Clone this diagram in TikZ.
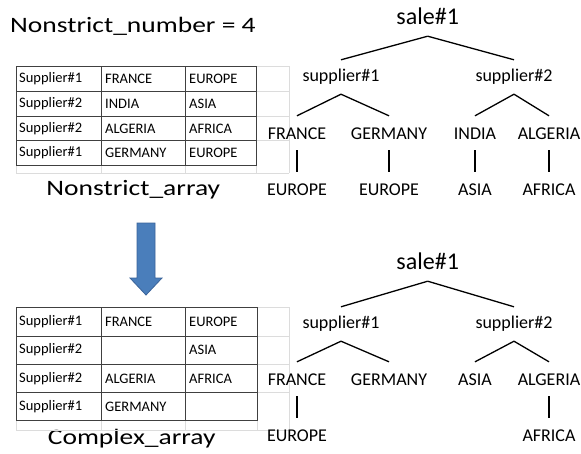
\documentclass[tikz,border=0pt]{standalone}
\usepackage{graphicx}
\usepackage{fontspec}
\setmainfont{Carlito}
\usetikzlibrary{positioning}
\definecolor{cellline}{HTML}{404040}
\definecolor{gridline}{HTML}{DCDCDC}
\definecolor{arrowblue}{HTML}{4A7EBB}
\definecolor{arrowedge}{HTML}{3A6399}
\newcommand{\squash}[1]{\scalebox{1}[0.8]{#1}}
\tikzset {
    caption/.style={font=\fontsize{27.5}{31}\selectfont, inner sep=0pt, anchor=base},
    cell/.style={font=\fontsize{14.5}{16}\selectfont, inner sep=0pt, anchor=west},
    root/.style={font=\fontsize{24}{28}\selectfont, text height=14pt, text depth=0pt, inner ysep=12pt, inner xsep=0pt},
    supp/.style={font=\fontsize{18}{22}\selectfont, text height=12pt, text depth=4pt, inner ysep=9pt, inner xsep=0pt},
    leaf/.style={font=\fontsize{18}{22}\selectfont, text height=12pt, text depth=0pt, inner ysep=11pt, inner xsep=0pt},
    branch/.style={draw=black, line width=1.3pt},
    frame/.style={draw=cellline, line width=0.9pt},
    faint/.style={draw=gridline, line width=0.6pt},
    node distance=56pt
}

\begin{document}
\begin{tikzpicture}[x=1pt, y=-1pt]
    \useasboundingbox (0,0) rectangle (581,453);

    % titles
    \node[caption, anchor=base west] (title) at (10,32.3) {\squash{Nonstrict\_number = 4}};
    \node[caption] (capA) at (133.3,195) {\squash{Nonstrict\_array}};
    \node[caption] (capB) at (131.7,444) {\squash{Complex\_array}};

    % first table
    \draw[faint] (16,66) -- (289,66) (256,91.3) -- (289,91.3) (256,116) -- (289,116)
        (256,140.3) -- (289,140.3) (16,173) -- (289,173) (289,66) -- (289,173)
        (16,165) -- (16,173) (101.7,165) -- (101.7,173) (185.7,165) -- (185.7,173) (256,165) -- (256,173);
    \draw[frame] (16,66) rectangle (256,165);
    \foreach \y in {91.3,116,140.3}
        \draw[frame] (16,\y) -- (256,\y);
    \foreach \x in {101.7,185.7}
        \draw[frame] (\x,66) -- (\x,165);
    \foreach \s/\c/\r [count=\i] in {Supplier\#1/FRANCE/EUROPE, Supplier\#2/INDIA/ASIA,
                                     Supplier\#2/ALGERIA/AFRICA, Supplier\#1/GERMANY/EUROPE} {
        \node[cell] (a\i s) at (19,54.1+24.75*\i) {\s};
        \node[cell] (a\i c) at (105,54.1+24.75*\i) {\c};
        \node[cell] (a\i r) at (189,54.1+24.75*\i) {\r};
    }

    % arrow
    \filldraw[fill=arrowblue, draw=arrowedge, line width=0.8pt]
        (137,223) -- (155,223) -- (155,278) -- (162,278) -- (146,295)
        -- (130,278) -- (137,278) -- cycle;

    % second table
    \draw[faint] (16,307.3) -- (289,307.3) (257,336) -- (289,336) (257,364) -- (289,364)
        (257,392.3) -- (289,392.3) (16,430) -- (289,430) (289,307.3) -- (289,430)
        (16,420.7) -- (16,430) (101.7,420.7) -- (101.7,430) (185.7,420.7) -- (185.7,430) (257,420.7) -- (257,430);
    \draw[frame] (16,307.3) rectangle (257,420.7);
    \foreach \y in {336,364,392.3}
        \draw[frame] (16,\y) -- (257,\y);
    \foreach \x in {101.7,185.7}
        \draw[frame] (\x,307.3) -- (\x,420.7);
    \foreach \s/\c/\r [count=\i] in {Supplier\#1/FRANCE/EUROPE, Supplier\#2//ASIA,
                                     Supplier\#2/ALGERIA/AFRICA, Supplier\#1/GERMANY/} {
        \node[cell] (b\i s) at (19,293.4+28.35*\i) {\s};
        \node[cell] (b\i c) at (105,293.4+28.35*\i) {\c};
        \node[cell] (b\i r) at (189,293.4+28.35*\i) {\r};
    }

    % first tree
    \node[root] (saleA) at (427.7,17) {sale\#1};
    \node[supp] (supA1) at (341,77) {supplier\#1};
    \node[supp] (supA2) at (514,77) {supplier\#2};
    \node[leaf] (frA) at (297,133) {FRANCE};
    \node[leaf] (geA) at (389,133) {GERMANY};
    \node[leaf] (inA) at (475,133) {INDIA};
    \node[leaf] (alA) at (549,133) {ALGERIA};
    \node[leaf, below of=frA] (euA1) {EUROPE};
    \node[leaf, below of=geA] (euA2) {EUROPE};
    \node[leaf, below of=inA] (asA) {ASIA};
    \node[leaf, below of=alA] (afA) {AFRICA};

    \draw[branch]
    (saleA.south) edge (supA1.north)
    (saleA.south) edge (supA2.north)
    (supA1.south) edge (frA.north)
    (supA1.south) edge (geA.north)
    (supA2.south) edge (inA.north)
    (supA2.south) edge (alA.north)
    (frA.south) edge (euA1.north)
    (geA.south) edge (euA2.north)
    (inA.south) edge (asA.north)
    (alA.south) edge (afA.north);

    % second tree
    \node[root] (saleB) at (427.7,262) {sale\#1};
    \node[supp] (supB1) at (341,324) {supplier\#1};
    \node[supp] (supB2) at (514,324) {supplier\#2};
    \node[leaf] (frB) at (297,379) {FRANCE};
    \node[leaf] (geB) at (389,379) {GERMANY};
    \node[leaf] (asB) at (475,379) {ASIA};
    \node[leaf] (alB) at (549,379) {ALGERIA};
    \node[leaf, below of=frB] (euB) {EUROPE};
    \node[leaf, below of=alB] (afB) {AFRICA};

    \draw[branch]
    (saleB.south) edge (supB1.north)
    (saleB.south) edge (supB2.north)
    (supB1.south) edge (frB.north)
    (supB1.south) edge (geB.north)
    (supB2.south) edge (asB.north)
    (supB2.south) edge (alB.north)
    (frB.south) edge (euB.north)
    (alB.south) edge (afB.north);
\end{tikzpicture}
\end{document}
